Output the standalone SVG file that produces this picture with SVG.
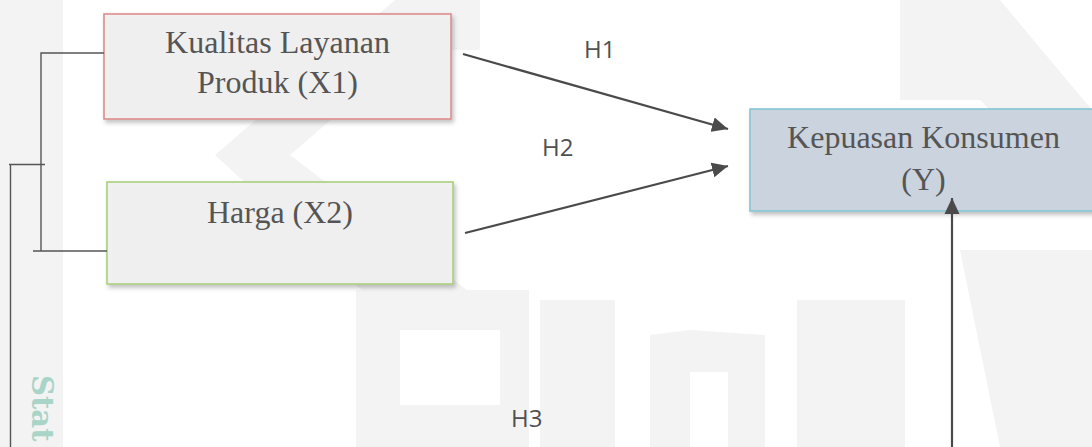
<svg xmlns="http://www.w3.org/2000/svg" width="1092" height="447" viewBox="0 0 1092 447">
  <defs>
    <style>
      .wm { fill: #f3f3f3; }
      .box-text { font-family: "Liberation Serif", "Times New Roman", serif; font-size: 32px; fill: #555555; text-anchor: middle; }
      .lbl { font-family: "Open Sans", "Liberation Sans", sans-serif; font-size: 24px; fill: #505050; }
      .arrow { fill: none; stroke: #4a4a4a; stroke-width: 2.2; }
      .bracket { fill: none; stroke: #555555; stroke-width: 1.4; }
    </style>
    <marker id="ah" markerUnits="userSpaceOnUse" markerWidth="16" markerHeight="16" refX="16" refY="8" orient="auto">
      <path d="M0,0.5 L16,8 L0,15.5 z" fill="#4a4a4a"/>
    </marker>
    <filter id="sh" x="-5%" y="-10%" width="112%" height="130%">
      <feDropShadow dx="2" dy="3" stdDeviation="2" flood-color="#000" flood-opacity="0.25"/>
    </filter>
  </defs>

  <rect width="1092" height="447" fill="#ffffff"/>

  <!-- faint watermark -->
  <g id="watermark">
    <rect class="wm" x="0" y="0" width="63" height="447"/>
    <polygon class="wm" points="395,0 470,0 290,155 480,300 480,330 405,330 215,155"/>
    <rect class="wm" x="417" y="0" width="63" height="50"/>
    <polygon class="wm" points="356,290 529,290 529,447 356,447"/>
    <rect x="400" y="330" width="100" height="75" fill="#ffffff"/>
    <polygon class="wm" points="540,300 615,300 615,447 540,447"/>
    <polygon class="wm" points="650,335 690,330 765,335 765,447 650,447"/>
    <rect x="690" y="372" width="38" height="75" fill="#ffffff"/>
    <polygon class="wm" points="797,300 905,300 905,447 797,447"/>
    <polygon class="wm" points="900,0 1000,0 1092,110 1092,160 1040,160 980,100 900,100"/>
    <polygon class="wm" points="960,250 1092,250 1092,447 1000,447"/>
    <text x="32" y="375" transform="rotate(90 32 375)" font-family="'DejaVu Serif', 'Liberation Serif', serif" font-weight="bold" font-size="29" fill="#a9d4c8">Stat</text>
  </g>

  <g id="node-x1">
    <rect x="104" y="14" width="347" height="105" fill="#f1f1f1" fill-opacity="0.92" stroke="#dd8c8c" stroke-width="1.6" filter="url(#sh)"/>
    <text class="box-text" x="277.5" y="53">Kualitas Layanan</text>
    <text class="box-text" x="277.5" y="93">Produk (X1)</text>
  </g>

  <g id="node-x2">
    <rect x="107" y="182" width="346" height="102" fill="#f1f1f1" fill-opacity="0.92" stroke="#a9cf7c" stroke-width="1.6" filter="url(#sh)"/>
    <text class="box-text" x="280" y="223">Harga (X2)</text>
  </g>

  <g id="node-y">
    <rect x="750" y="109" width="347" height="102" fill="#cbd3de" stroke="#86c5d5" stroke-width="1.6" filter="url(#sh)"/>
    <text class="box-text" x="923.5" y="148">Kepuasan Konsumen</text>
    <text class="box-text" x="923.5" y="190">(Y)</text>
  </g>

  <g id="connectors">
    <path class="bracket" d="M104,53 H41 V251 M33,251 H107"/>
    <path class="bracket" d="M9,164.5 H45 M10.5,164 V447"/>
    <line class="arrow" x1="463" y1="54" x2="728" y2="129" marker-end="url(#ah)"/>
    <line class="arrow" x1="465" y1="233" x2="728" y2="166" marker-end="url(#ah)"/>
    <line class="arrow" x1="952" y1="447" x2="952" y2="198" marker-end="url(#ah)"/>
  </g>

  <g id="labels">
    <text class="lbl" x="584" y="58">H1</text>
    <text class="lbl" x="542" y="156">H2</text>
    <text class="lbl" x="511" y="427">H3</text>
  </g>
</svg>
